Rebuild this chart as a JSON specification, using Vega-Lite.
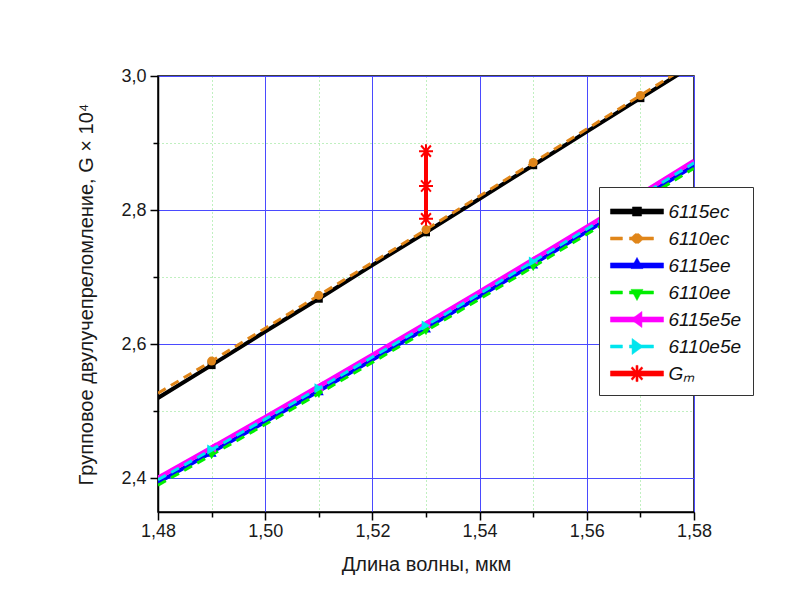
{
  "$schema": "https://vega.github.io/schema/vega-lite/v6.json",
  "width": 536,
  "height": 436,
  "autosize": {"type": "none"},
  "padding": {"left": 158, "top": 76, "right": 95, "bottom": 94},
  "background": "white",
  "config": {
    "view": {"stroke": "black", "strokeWidth": 1.5},
    "axis": {
      "labelFont": "Liberation Sans", "titleFont": "Liberation Sans",
      "labelFontSize": 18, "titleFontSize": 20, "titleFontWeight": "normal",
      "labelColor": "#1a1a1a", "titleColor": "#1a1a1a",
      "domainColor": "black", "tickColor": "black", "domainWidth": 1.5, "tickWidth": 1.5
    }
  },
  "data": {"values": [
    {"series": "6115ec", "x": 1.48, "y": 2.520}, {"series": "6115ec", "x": 1.49, "y": 2.569}, {"series": "6115ec", "x": 1.50, "y": 2.619}, {"series": "6115ec", "x": 1.51, "y": 2.668}, {"series": "6115ec", "x": 1.52, "y": 2.718}, {"series": "6115ec", "x": 1.53, "y": 2.767}, {"series": "6115ec", "x": 1.54, "y": 2.817}, {"series": "6115ec", "x": 1.55, "y": 2.867}, {"series": "6115ec", "x": 1.56, "y": 2.917}, {"series": "6115ec", "x": 1.57, "y": 2.967}, {"series": "6115ec", "x": 1.58, "y": 3.017},
    {"series": "6110ec", "x": 1.48, "y": 2.527}, {"series": "6110ec", "x": 1.49, "y": 2.575}, {"series": "6110ec", "x": 1.50, "y": 2.624}, {"series": "6110ec", "x": 1.51, "y": 2.673}, {"series": "6110ec", "x": 1.52, "y": 2.722}, {"series": "6110ec", "x": 1.53, "y": 2.771}, {"series": "6110ec", "x": 1.54, "y": 2.821}, {"series": "6110ec", "x": 1.55, "y": 2.871}, {"series": "6110ec", "x": 1.56, "y": 2.921}, {"series": "6110ec", "x": 1.57, "y": 2.971}, {"series": "6110ec", "x": 1.58, "y": 3.021},
    {"series": "6115ee", "x": 1.48, "y": 2.394}, {"series": "6115ee", "x": 1.49, "y": 2.439}, {"series": "6115ee", "x": 1.50, "y": 2.4845}, {"series": "6115ee", "x": 1.51, "y": 2.5305}, {"series": "6115ee", "x": 1.52, "y": 2.577}, {"series": "6115ee", "x": 1.53, "y": 2.624}, {"series": "6115ee", "x": 1.54, "y": 2.6715}, {"series": "6115ee", "x": 1.55, "y": 2.7195}, {"series": "6115ee", "x": 1.56, "y": 2.768}, {"series": "6115ee", "x": 1.57, "y": 2.817}, {"series": "6115ee", "x": 1.58, "y": 2.8665},
    {"series": "6110ee", "x": 1.48, "y": 2.390}, {"series": "6110ee", "x": 1.49, "y": 2.435}, {"series": "6110ee", "x": 1.50, "y": 2.4805}, {"series": "6110ee", "x": 1.51, "y": 2.5265}, {"series": "6110ee", "x": 1.52, "y": 2.573}, {"series": "6110ee", "x": 1.53, "y": 2.620}, {"series": "6110ee", "x": 1.54, "y": 2.6675}, {"series": "6110ee", "x": 1.55, "y": 2.7155}, {"series": "6110ee", "x": 1.56, "y": 2.764}, {"series": "6110ee", "x": 1.57, "y": 2.813}, {"series": "6110ee", "x": 1.58, "y": 2.8625},
    {"series": "6115e5e", "x": 1.48, "y": 2.401}, {"series": "6115e5e", "x": 1.49, "y": 2.446}, {"series": "6115e5e", "x": 1.50, "y": 2.4915}, {"series": "6115e5e", "x": 1.51, "y": 2.5375}, {"series": "6115e5e", "x": 1.52, "y": 2.584}, {"series": "6115e5e", "x": 1.53, "y": 2.631}, {"series": "6115e5e", "x": 1.54, "y": 2.6785}, {"series": "6115e5e", "x": 1.55, "y": 2.7265}, {"series": "6115e5e", "x": 1.56, "y": 2.775}, {"series": "6115e5e", "x": 1.57, "y": 2.824}, {"series": "6115e5e", "x": 1.58, "y": 2.8735},
    {"series": "6110e5e", "x": 1.48, "y": 2.398}, {"series": "6110e5e", "x": 1.49, "y": 2.443}, {"series": "6110e5e", "x": 1.50, "y": 2.4885}, {"series": "6110e5e", "x": 1.51, "y": 2.5345}, {"series": "6110e5e", "x": 1.52, "y": 2.581}, {"series": "6110e5e", "x": 1.53, "y": 2.628}, {"series": "6110e5e", "x": 1.54, "y": 2.6755}, {"series": "6110e5e", "x": 1.55, "y": 2.7235}, {"series": "6110e5e", "x": 1.56, "y": 2.772}, {"series": "6110e5e", "x": 1.57, "y": 2.821}, {"series": "6110e5e", "x": 1.58, "y": 2.8705},
    {"series": "Gₘ", "x": 1.53, "y": 2.787}, {"series": "Gₘ", "x": 1.53, "y": 2.836}, {"series": "Gₘ", "x": 1.53, "y": 2.888}
  ]},
  "encoding": {
    "x": {"field": "x", "type": "quantitative", "scale": {"domain": [1.48, 1.58], "nice": false, "zero": false},
          "axis": {"orient": "bottom", "values": [1.48, 1.49, 1.5, 1.51, 1.52, 1.53, 1.54, 1.55, 1.56, 1.57, 1.58],
                   "labelExpr": "round(datum.value*100) % 2 == 0 ? replace(format(datum.value,'.2f'),'.',',') : ''",
                   "tickSize": {"condition": {"test": "round(datum.value*100) % 2 == 0", "value": 8}, "value": 5},
                   "gridColor": {"condition": {"test": "round(datum.value*100) % 2 == 0", "value": "#4a4aff"}, "value": "#80e080"},
                   "gridDash": {"condition": {"test": "round(datum.value*100) % 2 == 0", "value": []}, "value": [1, 3]},
                   "labelPadding": 2, "labelFlush": false, "labelOverlap": false, "grid": true, "gridWidth": 1,
                   "title": "Длина волны, мкм", "titlePadding": 14}},
    "y": {"field": "y", "type": "quantitative", "scale": {"domain": [2.35, 3.0], "nice": false, "zero": false},
          "axis": {"orient": "left", "values": [2.4, 2.5, 2.6, 2.7, 2.8, 2.9, 3.0],
                   "labelExpr": "round(datum.value*10) % 2 == 0 ? replace(format(datum.value,'.1f'),'.',',') : ''",
                   "tickSize": {"condition": {"test": "round(datum.value*10) % 2 == 0", "value": 8}, "value": 5},
                   "gridColor": {"condition": {"test": "round(datum.value*10) % 2 == 0", "value": "#4a4aff"}, "value": "#80e080"},
                   "gridDash": {"condition": {"test": "round(datum.value*10) % 2 == 0", "value": []}, "value": [1, 3]},
                   "labelPadding": 4, "labelFlush": false, "labelOverlap": false, "grid": true, "gridWidth": 1,
                   "title": "Групповое двулучепреломление, G × 10⁴", "titlePadding": 24}},
    "color": {
      "field": "series", "type": "nominal",
      "scale": {"domain": ["6115ec", "6110ec", "6115ee", "6110ee", "6115e5e", "6110e5e", "Gₘ"],
                "range": ["#000000", "#e0861a", "#0000ff", "#00ee00", "#ff00ff", "#00e5ee", "#ff0000"]},
      "legend": {
        "title": null, "orient": "none", "legendX": 441, "legendY": 111,
        "symbolSize": 676, "symbolOffset": 13.5, "symbolStrokeWidth": 0.5,
        "labelFont": "Liberation Sans", "labelFontStyle": "italic", "labelFontSize": 19, "labelColor": "#111111",
        "labelOffset": 18, "rowPadding": 3, "padding": 11,
        "fillColor": "white", "strokeColor": "#333333",
        "encode": {
          "symbols": {"update": {
          "shape": {"signal": "datum.value=='6115ec' ? 'M-2.04,-0.2H2.04V0.2H-2.04ZM-0.35,-0.35H0.35V0.35H-0.35Z' : datum.value=='6110ec' ? 'M-2.04,-0.12H-1.12V0.12H-2.04ZM-0.58,-0.12H1.27V0.12H-0.58ZM-0.15,-0.37L0.15,-0.37L0.37,-0.15L0.37,0.15L0.15,0.37L-0.15,0.37L-0.37,0.15L-0.37,-0.15Z' : datum.value=='6115ee' ? 'M-2.04,-0.2H2.04V0.2H-2.04ZM0,-0.62L0.46,0.24H-0.46Z' : datum.value=='6110ee' ? 'M-2.04,-0.12H-1.12V0.12H-2.04ZM-0.58,-0.12H1.27V0.12H-0.58ZM0,0.62L-0.46,-0.24H0.46Z' : datum.value=='6115e5e' ? 'M-2.04,-0.2H2.04V0.2H-2.04ZM-0.46,0L0.38,-0.62V0.62Z' : datum.value=='6110e5e' ? 'M-2.04,-0.12H-1.12V0.12H-2.04ZM-0.58,-0.12H1.27V0.12H-0.58ZM0.46,0L-0.38,0.62V-0.62Z' : 'M-2.04,-0.2H2.04V0.2H-2.04ZM-0.54,-0.08H0.54V0.08H-0.54ZM-0.08,-0.62H0.08V0.62H-0.08ZM-0.35,-0.51L0.46,0.41L0.35,0.51L-0.46,-0.41ZM-0.46,0.41L0.35,-0.51L0.46,-0.41L-0.35,0.51Z'"},
          "fill": {"signal": "scale('color', datum.value)"},
          "stroke": {"signal": "scale('color', datum.value)"},
          "opacity": {"value": 1}
        }}}
      }
    }
  },
  "layer": [
    {"transform": [{"filter": "datum.series=='6115ec'"}],
     "mark": {"type": "line", "strokeWidth": 4, "clip": true}},
    {"transform": [{"filter": "datum.series=='6115ec' && round(datum.x*100) % 2 == 1"}],
     "mark": {"type": "point", "shape": "square", "filled": true, "size": 64, "opacity": 1, "clip": true}},
    {"transform": [{"filter": "datum.series=='6110ec'"}],
     "mark": {"type": "line", "strokeWidth": 3, "strokeDash": [9, 6], "clip": true}},
    {"transform": [{"filter": "datum.series=='6110ec' && round(datum.x*100) % 2 == 1"}],
     "mark": {"type": "point", "shape": "circle", "filled": true, "size": 81, "opacity": 1, "clip": true}},
    {"transform": [{"filter": "datum.series=='6115ee'"}],
     "mark": {"type": "line", "strokeWidth": 4, "clip": true}},
    {"transform": [{"filter": "datum.series=='6115ee' && round(datum.x*100) % 2 == 1"}],
     "mark": {"type": "point", "shape": "triangle-up", "filled": true, "size": 100, "opacity": 1, "clip": true}},
    {"transform": [{"filter": "datum.series=='6110ee'"}],
     "mark": {"type": "line", "strokeWidth": 3, "strokeDash": [9, 6], "clip": true}},
    {"transform": [{"filter": "datum.series=='6110ee' && round(datum.x*100) % 2 == 1"}],
     "mark": {"type": "point", "shape": "triangle-down", "filled": true, "size": 100, "opacity": 1, "clip": true}},
    {"transform": [{"filter": "datum.series=='6115e5e'"}],
     "mark": {"type": "line", "strokeWidth": 4.5, "clip": true}},
    {"transform": [{"filter": "datum.series=='6115e5e' && round(datum.x*100) % 2 == 1"}],
     "mark": {"type": "point", "shape": "triangle-left", "filled": true, "size": 100, "opacity": 1, "clip": true}},
    {"transform": [{"filter": "datum.series=='6110e5e'"}],
     "mark": {"type": "line", "strokeWidth": 3, "strokeDash": [9, 6], "clip": true}},
    {"transform": [{"filter": "datum.series=='6110e5e' && round(datum.x*100) % 2 == 1"}],
     "mark": {"type": "point", "shape": "triangle-right", "filled": true, "size": 100, "opacity": 1, "clip": true}},
    {"transform": [{"filter": "datum.series=='Gₘ'"}],
     "mark": {"type": "line", "strokeWidth": 4, "clip": true}},
    {"transform": [{"filter": "datum.series=='Gₘ'"}],
     "mark": {"type": "point", "shape": "M-1,0H1M0,-1V1M-0.7,-0.8L0.7,0.8M-0.7,0.8L0.7,-0.8", "filled": false, "size": 196, "strokeWidth": 2, "opacity": 1, "clip": true}}
  ]
}
